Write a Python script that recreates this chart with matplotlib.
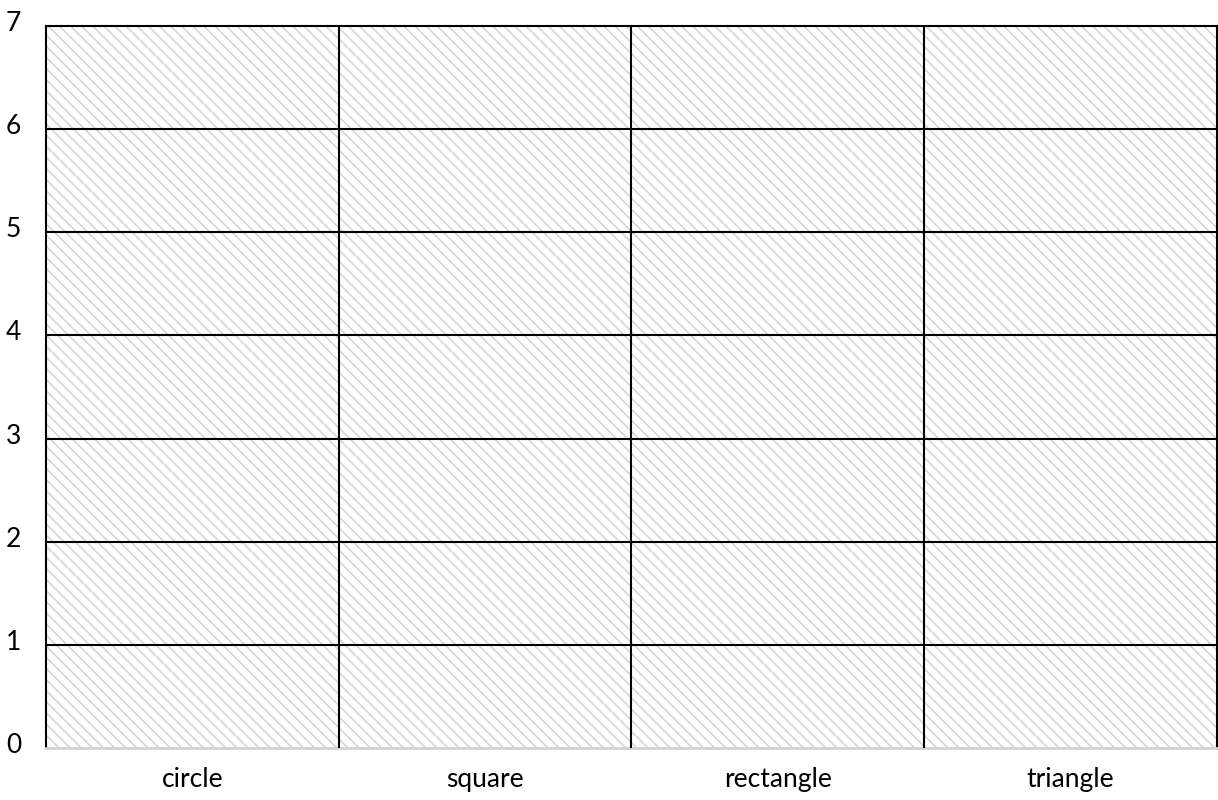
import matplotlib
matplotlib.use("Agg")
import matplotlib.pyplot as plt
import matplotlib.transforms as mtransforms
from matplotlib.patches import Rectangle

# data
categories = ["circle", "square", "rectangle", "triangle"]
counts = [0, 0, 0, 0]
y_ticks = [0, 1, 2, 3, 4, 5, 6, 7]

plt.rcParams["font.family"] = ["Lato", "DejaVu Sans"]
plt.rcParams["hatch.color"] = "#d4d4d4"
plt.rcParams["hatch.linewidth"] = 1.1

fig = plt.figure(figsize=(12.18, 8), dpi=100)
ax = fig.add_axes([0.0378, 0.065, 0.9612, 0.9025])

# hatched background
bg = Rectangle((0, 0), 1, 1, transform=ax.transAxes, facecolor="white",
               edgecolor="#d4d4d4", linewidth=0, hatch="\\\\\\", zorder=0)
ax.add_patch(bg)

ax.bar(categories, counts, width=1.0, color="#888888", zorder=2)

ax.set_xlim(-0.5, len(categories) - 0.5)
ax.set_ylim(0, max(y_ticks))
ax.set_yticks(y_ticks)

# grid lines
for y in y_ticks[1:-1]:
    ax.axhline(y, color="black", linewidth=1.5, zorder=3)
for i in range(len(categories) - 1):
    ax.axvline(i + 0.5, color="black", linewidth=1.5, zorder=3)

for side in ["left", "top", "right"]:
    ax.spines[side].set_color("black")
    ax.spines[side].set_linewidth(1.5)
ax.spines["bottom"].set_color("#d2d2d2")
ax.spines["bottom"].set_linewidth(2)

ax.tick_params(axis="both", length=0, labelsize=19)
ax.tick_params(axis="x", pad=14)
ax.tick_params(axis="y", pad=18)

# y labels sit a little above their lines
shift = mtransforms.ScaledTranslation(0, 5 / 100, fig.dpi_scale_trans)
for lbl in ax.get_yticklabels():
    lbl.set_transform(lbl.get_transform() + shift)

fig.savefig("out.png", dpi=100)
